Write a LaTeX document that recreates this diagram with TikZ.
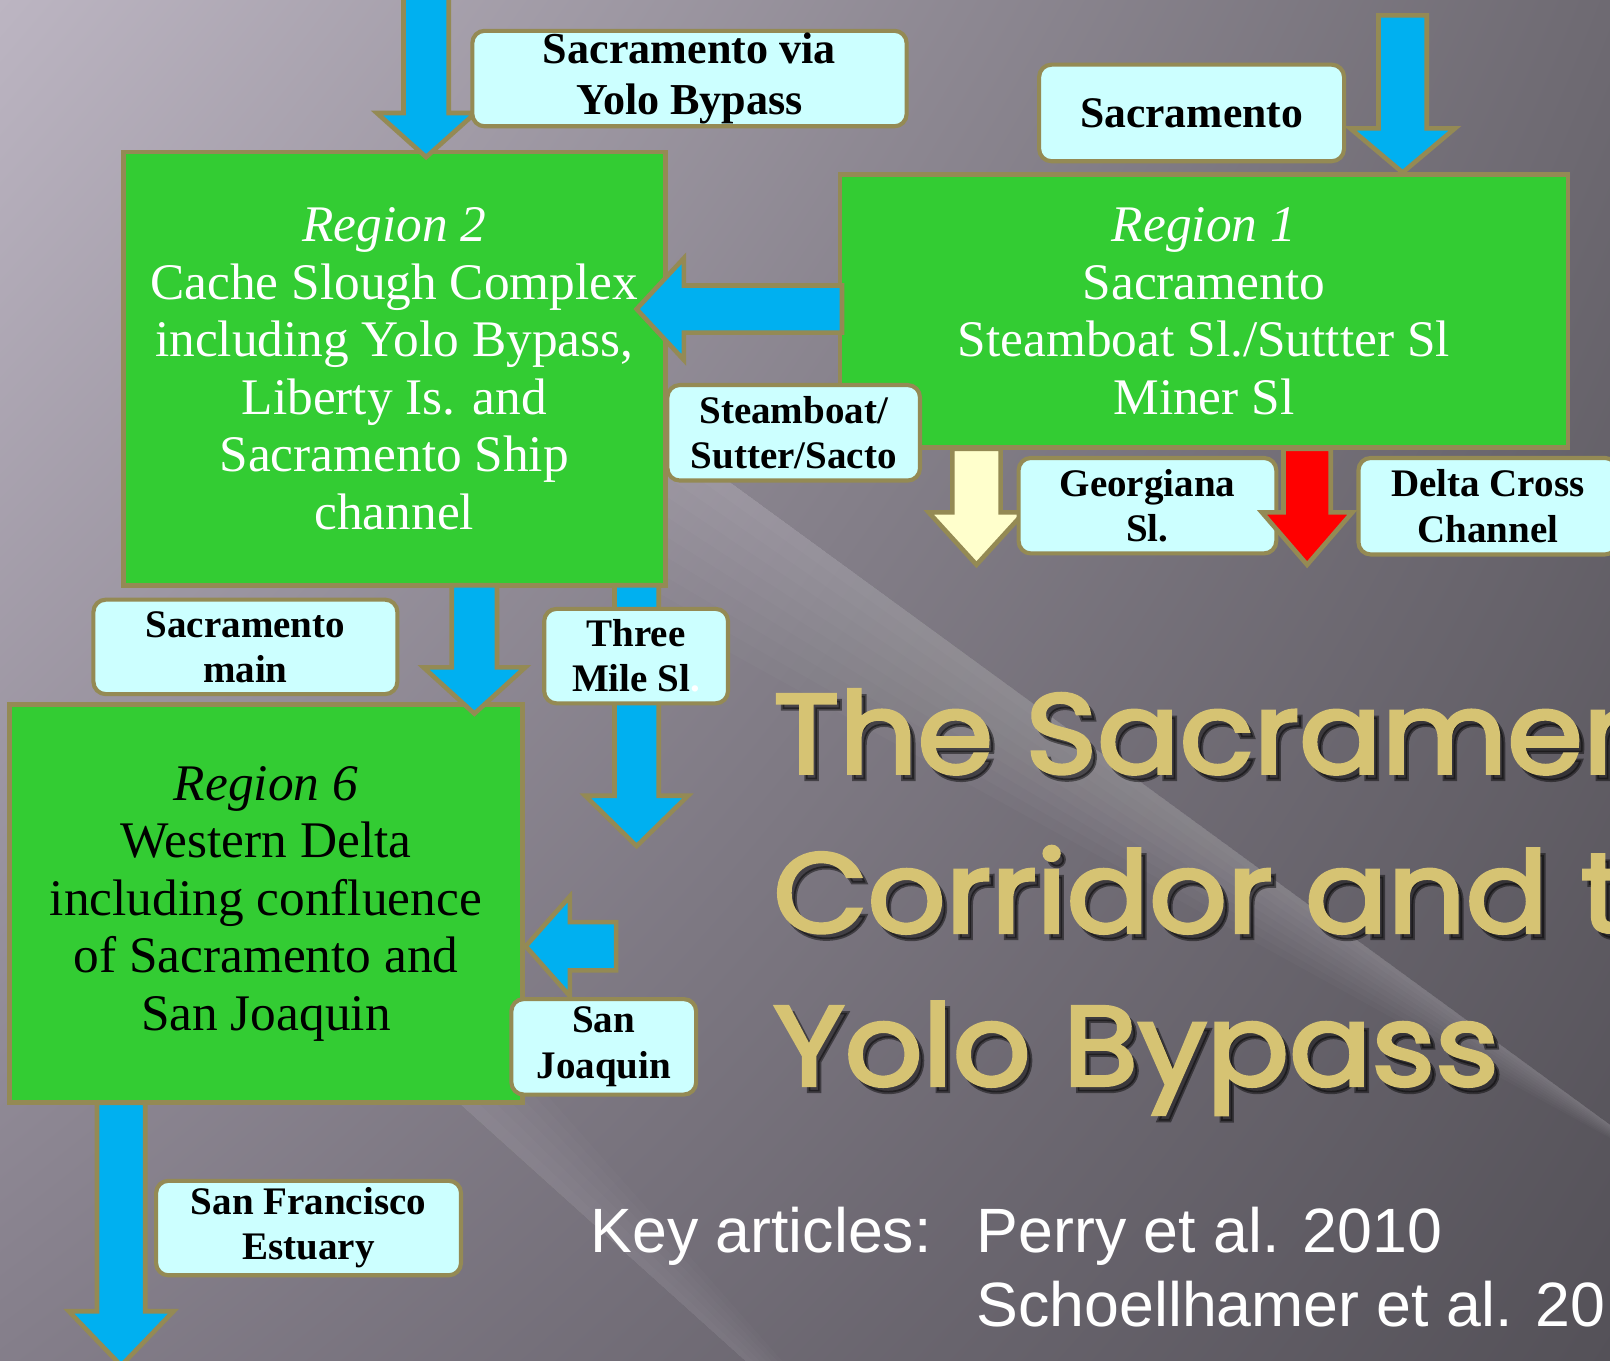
\documentclass[tikz,border=0pt]{standalone}
\usepackage{fontspec}
\setmainfont{Liberation Serif}
\newfontfamily\titlefont[FakeStretch=1.08,FakeBold=3]{Poppins}
\newfontfamily\keyfont{Liberation Sans}
\usetikzlibrary{shadings}
\definecolor{frameol}{RGB}{148,138,84}
\definecolor{regiongreen}{RGB}{51,204,51}
\definecolor{lblcyan}{RGB}{204,255,255}
\definecolor{flowblue}{RGB}{0,176,240}
\definecolor{flowyellow}{RGB}{255,255,204}
\definecolor{flowred}{RGB}{255,0,0}
\definecolor{titlegold}{RGB}{214,195,115}
\definecolor{bgUL}{RGB}{188,181,194}
\definecolor{bgUR}{RGB}{110,106,114}
\definecolor{bgLL}{RGB}{132,126,138}
\definecolor{bgLR}{RGB}{84,81,88}
% down arrow: cx, halfshaft, ytop, yhead, halfhead, ytip, style
\newcommand{\dnarrow}[7]{%
  \draw[#7] (#1-#2,#3) -- (#1-#2,#4) -- (#1-#5,#4) -- (#1,#6) -- (#1+#5,#4) -- (#1+#2,#4) -- (#1+#2,#3) -- cycle;}
% left arrow: cy, halfshaft, xright, xhead, halfhead, xtip, style
\newcommand{\lfarrow}[7]{%
  \draw[#7] (#3,#1-#2) -- (#4,#1-#2) -- (#4,#1-#5) -- (#6,#1) -- (#4,#1+#5) -- (#4,#1+#2) -- (#3,#1+#2) -- cycle;}
\begin{document}
\begin{tikzpicture}[x=1pt,y=-1pt,
  regbox/.style={draw=frameol, line width=4.5pt, fill=regiongreen, align=center, inner sep=0pt,
                 font=\fontsize{50}{56}\selectfont},
  lblbox/.style={draw=frameol, line width=4pt, fill=lblcyan, rounded corners=12pt,
                 align=center, inner sep=0pt, font=\bfseries\fontsize{38}{44}\selectfont},
  flow/.style={draw=frameol, line width=4.5pt, fill=flowblue, line join=miter},
  titletext/.style={anchor=base west, inner sep=0pt, font=\titlefont\fontsize{110}{110}\selectfont},
  keytext/.style={anchor=base west, inner sep=0pt, text=white, font=\keyfont\fontsize{61}{69}\selectfont},
]
\useasboundingbox (0,0) rectangle (1568,1325);
\clip (0,0) rectangle (1568,1325);
% background
\shade[upper left=bgUL, upper right=bgUR, lower left=bgLL, lower right=bgLR] (0,0) rectangle (1568,1325);
\foreach \d in {25,50,...,225}
  \fill[white, opacity=0.022] (380,228) -- (1640,1148) -- (380,{228+\d}) -- cycle;
\foreach \d in {20,40,...,120}
  \fill[white, opacity=0.02] (380,1014) -- (900,1482) -- (380,{1014-\d}) -- cycle;

% regions
\node[regbox, minimum width=528, minimum height=422, text=white] (r2) at (384,359)
  {\textit{Region 2}\\Cache Slough Complex\\including Yolo Bypass,\\Liberty Is. and\\Sacramento Ship\\channel};
\node[regbox, minimum width=709, minimum height=266, text=white] (r1) at (1172.5,303)
  {\textit{Region 1}\\Sacramento\\Steamboat Sl./Suttter Sl\\Miner Sl};
\node[regbox, minimum width=500, minimum height=388, text=black] (r6) at (259,880)
  {\textit{Region 6}\\Western Delta\\including confluence\\of Sacramento and\\San Joaquin};

% arrows
\dnarrow{415}{22}{-10}{110}{48}{153}{flow}
\dnarrow{1366}{23.5}{15}{125}{51}{168}{flow}
\lfarrow{301}{23}{820}{666}{49.5}{620}{flow}
\dnarrow{462}{22}{570}{650}{49.5}{695}{flow}
\dnarrow{620}{21.5}{570}{775}{50}{824}{flow}
\lfarrow{921.5}{23.5}{600}{555}{48.5}{512}{flow}
\dnarrow{118}{23.5}{1074}{1277}{51}{1330}{flow}
\dnarrow{951}{23.5}{437}{499}{46.5}{550}{flow, fill=flowyellow}

% labels
\node[lblbox, minimum width=423, minimum height=93, font=\bfseries\fontsize{43}{50}\selectfont] (lvia) at (671.5,76.5) {Sacramento via\\Yolo Bypass};
\node[lblbox, minimum width=297, minimum height=94, font=\bfseries\fontsize{42.5}{50}\selectfont] (lsac) at (1160.5,110) {Sacramento};
\node[lblbox, minimum width=246, minimum height=93] (lsteam) at (773,421.5) {Steamboat/\\Sutter/Sacto};
\node[lblbox, minimum width=251, minimum height=93] (lgeo) at (1117.5,492.5) {Georgiana\\Sl.};
\node[lblbox, minimum width=252, minimum height=94] (ldcc) at (1449,493) {Delta Cross\\Channel};
\node[lblbox, minimum width=296, minimum height=92] (lmain) at (239,630) {Sacramento\\main};
\node[lblbox, minimum width=179, minimum height=92] (lthree) at (619.5,639) {Three\\Mile Sl\textcolor{white}{.}};
\node[lblbox, minimum width=180, minimum height=93] (lsj) at (588,1019.5) {San\\Joaquin};
\node[lblbox, minimum width=297, minimum height=92] (lsf) at (300.5,1196) {San Francisco\\Estuary};

\dnarrow{1273}{23}{437}{499}{44}{550}{flow, fill=flowred}

% title
\node[titletext, text=black, opacity=0.45] (t1s) at (758,759) {The Sacramento};
\node[titletext, text=black, opacity=0.45] (t2s) at (758,914) {Corridor and the};
\node[titletext, text=black, opacity=0.45] (t3s) at (758,1063) {Yolo Bypass};
\node[titletext, text=titlegold] (t1) at (753,753) {The Sacramento};
\node[titletext, text=titlegold] (t2) at (753,908) {Corridor and the};
\node[titletext, text=titlegold] (t3) at (753,1057) {Yolo Bypass};

% key articles
\node[keytext] (k1) at (575,1220) {Key articles:};
\node[keytext] (k2) at (951,1220) {Perry et al. 2010};
\node[keytext] (k3) at (951,1292) {Schoellhamer et al. 20};
\end{tikzpicture}
\end{document}
